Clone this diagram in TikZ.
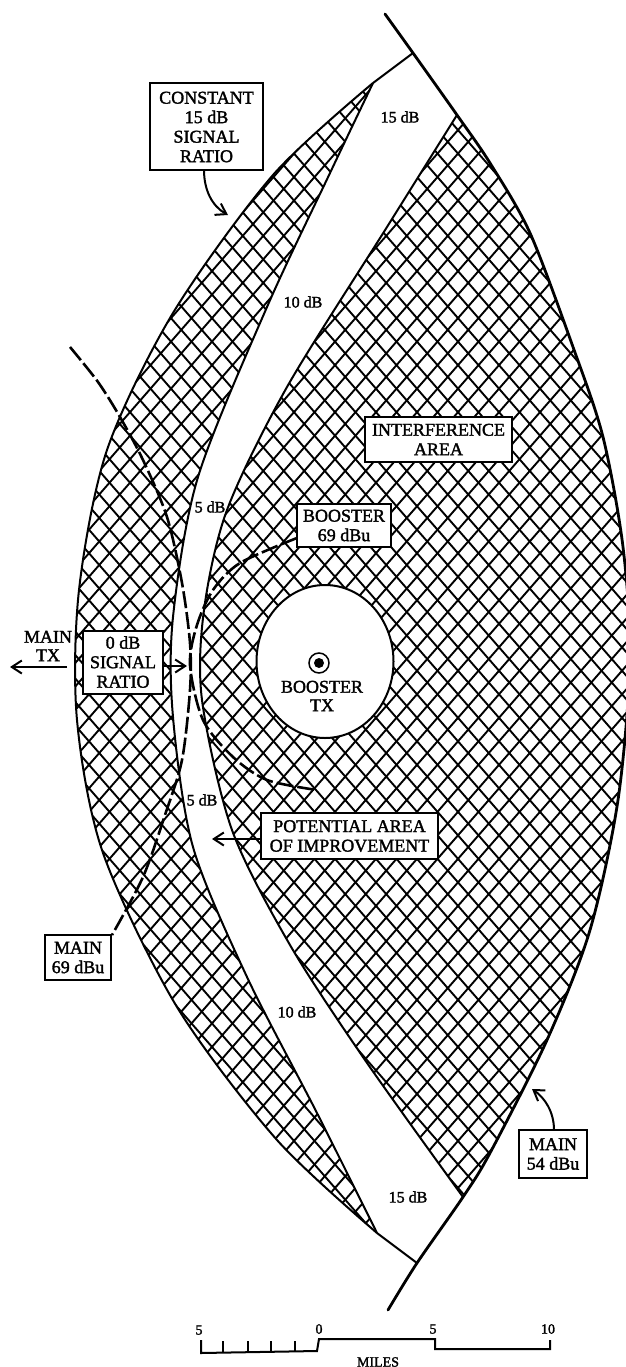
\documentclass[tikz,border=0pt]{standalone}
\usepackage{fontspec}
\setmainfont[FakeBold=1.8]{Liberation Serif}
\usetikzlibrary{arrows.meta,shapes.geometric}
\def\LeftOuter{(373,83)(273,175)(173,313)(107,450)(79,590)(77,720)(103,853)(177,1007)(277,1140)(377,1233)}
\def\LeftInner{(377,1233)(317,1113)(247,977)(193,847)(173,717)(173,617)(198,477)(267,307)(330,173)(373,83)}
\def\RightIn{(457,115)(387,227)(287,387)(227,510)(204,610)(202,700)(232,830)(290,945)(365,1060)(463,1197)}
\def\RightOut{(463,1197)(490,1153)(547,1040)(590,930)(618,800)(630,660)(623,547)(603,437)(573,347)(530,233)(490,163)(457,115)}
\tikzset{
  lab/.style={font=\fontsize{16}{19}\selectfont,align=center,inner sep=0pt},
  boxed/.style={draw=black,line width=2pt,fill=white,font=\fontsize{18}{19.5}\selectfont,align=center,inner sep=0pt},
  curve/.style={line width=2pt},
  hatch/.style={line width=1.9pt},
  dashline/.style={line width=2.6pt,dash pattern=on 17pt off 4pt},
  tipline/.style={line width=2pt,-{Straight Barb[length=10pt,width=13pt]}},
  scalebar/.style={line width=2pt},
  numlab/.style={font=\fontsize{14}{15}\selectfont,inner sep=0pt},
}
\begin{document}
\begin{tikzpicture}[x=1pt,y=-1pt]
\useasboundingbox (0,0) rectangle (625,1367);
\fill[white] (0,0) rectangle (625,1367);
% hatching
\begin{scope}
\clip plot[smooth] coordinates {\LeftOuter} -- plot[smooth] coordinates {\LeftInner} -- cycle;
\foreach \k in {-60,...,60}{\draw[hatch] ({\k*20.5+16.6},0) -- ({\k*20.5+16.6+1220.8},1400);}
\foreach \k in {-10,...,110}{\draw[hatch] ({\k*20.5+17.9},0) -- ({\k*20.5+17.9-1220.8},1400);}
\end{scope}
\begin{scope}
\clip plot[smooth] coordinates {\RightIn} -- plot[smooth] coordinates {\RightOut} -- cycle;
\foreach \k in {-60,...,60}{\draw[hatch] ({\k*20.5+16.6},0) -- ({\k*20.5+16.6+1220.8},1400);}
\foreach \k in {-10,...,110}{\draw[hatch] ({\k*20.5+17.9},0) -- ({\k*20.5+17.9-1220.8},1400);}
\end{scope}
% outlines
\draw[curve] plot[smooth] coordinates {\LeftOuter};
\draw[curve] plot[smooth] coordinates {\LeftInner};
\draw[curve] plot[smooth] coordinates {\RightIn};
\draw[line width=2.8pt,line cap=round] plot[smooth] coordinates {(385,14)(413,53)(457,115)(490,163)(530,233)(573,347)(603,437)(623,547)(630,660)(618,800)(590,930)(547,1040)(490,1153)(463,1197)(417,1263)(388,1310)};
\draw[curve] (373,83) -- (413,53);
\draw[curve] (377,1233) -- (417,1263);
% booster area
\node[draw=black,line width=2pt,fill=white,ellipse,minimum width=137pt,minimum height=153pt,inner sep=0pt] (hole) at (325,661.5) {};
\node[circle,draw=black,line width=1.5pt,minimum size=20pt,inner sep=0pt] (txring) at (319,663) {};
\node[circle,fill=black,minimum size=10pt,inner sep=0pt] (txdot) at (319,663) {};
\node[lab,font=\fontsize{18}{18.5}\selectfont] (txlab) at (322,696) {BOOSTER\\TX};
% boxes
\node[boxed,minimum width=113pt,minimum height=87pt] (constant) at (206.5,127) {CONSTANT\\15 dB\\SIGNAL\\RATIO};
\node[boxed,minimum width=80pt,minimum height=63pt] (zerodb) at (123,662) {0 dB\\SIGNAL\\RATIO};
\node[boxed,minimum width=94pt,minimum height=43pt] (booster) at (344,525.5) {BOOSTER\\69 dBu};
\node[boxed,minimum width=147pt,minimum height=45pt] (interf) at (438.5,439.5) {INTERFERENCE\\AREA};
\node[boxed,minimum width=177pt,minimum height=46pt] (potential) at (349.5,836) {POTENTIAL AREA\\OF IMPROVEMENT};
\node[boxed,minimum width=66pt,minimum height=45pt] (main69) at (78,957.5) {MAIN\\69 dBu};
\node[boxed,minimum width=68pt,minimum height=48pt] (main54) at (553,1154) {MAIN\\54 dBu};
% labels
\node[lab] (db15a) at (400,117) {15 dB};
\node[lab] (db10a) at (303,302) {10 dB};
\node[lab] (db5a) at (210,507) {5 dB};
\node[lab] (db5b) at (202,800) {5 dB};
\node[lab] (db10b) at (297,1012) {10 dB};
\node[lab] (db15b) at (408,1197) {15 dB};
\node[lab,font=\fontsize{18}{18.5}\selectfont] (maintx) at (48,646) {MAIN\\TX};
% dashed contours
\draw[dashline] plot[smooth] coordinates {(70,347)(98,382)(120,417)(143,460)(167,517)(182,583)(190,643)(190,690)(182,760)(165,815)(143,877)(112,935)};
\draw[dashline] plot[smooth] coordinates {(297,538)(240,563)(213,590)(197,625)(190,665)(203,720)(233,757)(267,780)(317,790)};
% arrows
\coordinate (a1) at (228,215);
\coordinate (a2) at (187,666);
\coordinate (a3) at (10,667);
\coordinate (a3s) at (67,667);
\coordinate (a4) at (212,839);
\coordinate (a5) at (532,1089);
\draw[tipline] (204,170) .. controls (204,190) and (212,206) .. (a1);
\draw[tipline] (zerodb.east |- a2) -- (a2);
\draw[tipline] (a3s) -- (a3);
\draw[tipline] (potential.west |- a4) -- (a4);
\draw[tipline] (554,1130) .. controls (554,1112) and (545,1098) .. (a5);
% scale
\node[numlab] (s5a) at (199,1330) {5};
\node[numlab] (s0) at (319,1329) {0};
\node[numlab] (s5b) at (433,1329) {5};
\node[numlab] (s10) at (548,1329) {10};
\node[numlab] (miles) at (378,1362) {MILES};
\draw[scalebar] (201,1340) -- (201,1353) -- (317,1351) -- (319,1339) -- (435,1339) -- (435,1349) -- (550,1349) -- (550,1340);
\foreach \x in {223,248,271,295}{\draw[scalebar] (\x,1341) -- (\x,1352);}
\end{tikzpicture}
\end{document}
